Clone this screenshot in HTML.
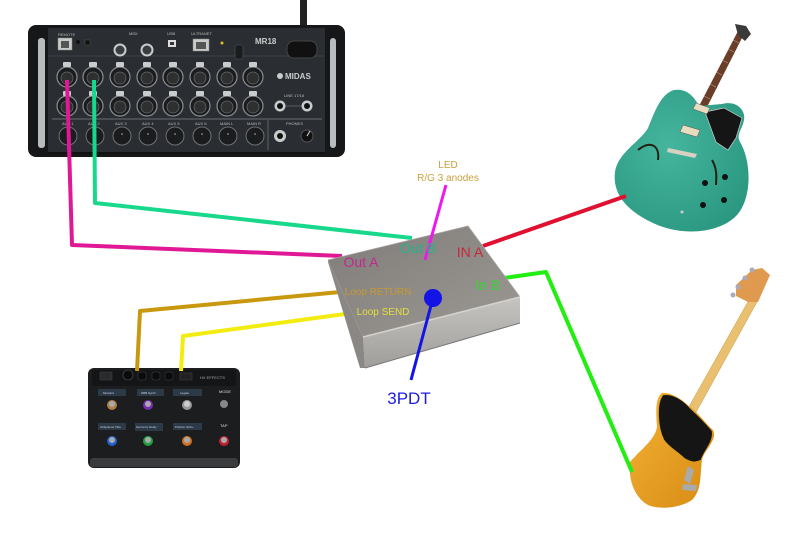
<!DOCTYPE html>
<html><head><meta charset="utf-8"><style>
html,body{margin:0;padding:0;background:#fff;}
svg{display:block;}
text{font-family:"Liberation Sans","DejaVu Sans",sans-serif;}
</style></head><body>
<svg width="800" height="559" viewBox="0 0 800 559" xmlns="http://www.w3.org/2000/svg">
<defs>
<linearGradient id="topf" x1="0" y1="0" x2="1" y2="1">
<stop offset="0" stop-color="#7f7c79"/><stop offset="0.5" stop-color="#8e8b87"/><stop offset="1" stop-color="#9c9995"/>
</linearGradient>
<linearGradient id="frontf" x1="0" y1="0" x2="0" y2="1">
<stop offset="0" stop-color="#c6c4c0"/><stop offset="1" stop-color="#a09e9a"/>
</linearGradient>
<radialGradient id="gbody" cx="0.4" cy="0.4" r="0.7">
<stop offset="0" stop-color="#46b59e"/><stop offset="1" stop-color="#2a9880"/>
</radialGradient>
<linearGradient id="bbody" x1="0" y1="0" x2="1" y2="1">
<stop offset="0" stop-color="#f2b235"/><stop offset="1" stop-color="#d88a12"/>
</linearGradient>
</defs>

<!-- ============ MIXER ============ -->
<g>
<rect x="300" y="0" width="7" height="50" fill="#222"/>
<rect x="28" y="25" width="317" height="132" rx="8" fill="#161719"/>
<rect x="48" y="28" width="277" height="126" fill="#2a2e32"/>
<rect x="38" y="38" width="7" height="110" rx="3" fill="#b8bcbf"/>
<rect x="330" y="38" width="6" height="110" rx="3" fill="#b8bcbf"/>
<line x1="48" y1="56" x2="325" y2="56" stroke="#3c4146" stroke-width="1"/>
<line x1="52" y1="119" x2="322" y2="119" stroke="#6a6f74" stroke-width="1"/>
<line x1="48" y1="153" x2="325" y2="153" stroke="#111" stroke-width="2"/>
<text x="58" y="36" font-size="4" fill="#bbb">REMOTE</text>
<rect x="58" y="38" width="14" height="12" fill="#c8ccc8" stroke="#888" stroke-width="0.5"/>
<rect x="61" y="41" width="8" height="7" fill="#555"/>
<circle cx="78" cy="42" r="2" fill="#111"/>
<rect x="85" y="40" width="5" height="5" fill="#111" stroke="#555" stroke-width="0.5"/>
<text x="129" y="35" font-size="4" fill="#bbb">MIDI</text>
<circle cx="120" cy="50" r="6.5" fill="#c9cccc"/><circle cx="120" cy="50" r="4.5" fill="#3a3d40"/>
<circle cx="147" cy="50" r="6.5" fill="#c9cccc"/><circle cx="147" cy="50" r="4.5" fill="#3a3d40"/>
<text x="167" y="35" font-size="4" fill="#bbb">USB</text>
<rect x="168" y="40" width="8" height="7" fill="#ddd"/><rect x="170" y="42" width="4" height="3" fill="#333"/>
<text x="191" y="35" font-size="4" fill="#bbb">ULTRANET</text>
<rect x="193" y="39" width="16" height="12" fill="#c8ccc8" stroke="#888" stroke-width="0.5"/>
<rect x="196" y="42" width="10" height="7" fill="#555"/>
<circle cx="222" cy="43" r="1.5" fill="#e0c020"/>
<rect x="235" y="45" width="8" height="14" rx="2" fill="#1a1c1e" stroke="#555" stroke-width="0.6"/>
<text x="255" y="44" font-size="8" fill="#c8cccc" font-weight="bold">MR18</text>
<rect x="287" y="41" width="30" height="17" rx="7" fill="#111" stroke="#444" stroke-width="1"/>
<g fill="#1b1c1e" stroke="#8a8e92" stroke-width="1.2">
<circle cx="67" cy="77" r="10"/><circle cx="93" cy="77" r="10"/><circle cx="120" cy="77" r="10"/><circle cx="147" cy="77" r="10"/>
<circle cx="173" cy="77" r="10"/><circle cx="200" cy="77" r="10"/><circle cx="227" cy="77" r="10"/><circle cx="253" cy="77" r="10"/>
<circle cx="67" cy="106" r="10"/><circle cx="93" cy="106" r="10"/><circle cx="120" cy="106" r="10"/><circle cx="147" cy="106" r="10"/>
<circle cx="173" cy="106" r="10"/><circle cx="200" cy="106" r="10"/><circle cx="227" cy="106" r="10"/><circle cx="253" cy="106" r="10"/>
</g>
<g fill="#2e2f31" stroke="#666" stroke-width="0.8">
<circle cx="67" cy="78" r="6"/><circle cx="93" cy="78" r="6"/><circle cx="120" cy="78" r="6"/><circle cx="147" cy="78" r="6"/>
<circle cx="173" cy="78" r="6"/><circle cx="200" cy="78" r="6"/><circle cx="227" cy="78" r="6"/><circle cx="253" cy="78" r="6"/>
<circle cx="67" cy="107" r="6"/><circle cx="93" cy="107" r="6"/><circle cx="120" cy="107" r="6"/><circle cx="147" cy="107" r="6"/>
<circle cx="173" cy="107" r="6"/><circle cx="200" cy="107" r="6"/><circle cx="227" cy="107" r="6"/><circle cx="253" cy="107" r="6"/>
</g>
<g fill="#c9cbcc">
<rect x="63" y="62" width="8" height="5" rx="1"/><rect x="89" y="62" width="8" height="5" rx="1"/><rect x="116" y="62" width="8" height="5" rx="1"/><rect x="143" y="62" width="8" height="5" rx="1"/>
<rect x="169" y="62" width="8" height="5" rx="1"/><rect x="196" y="62" width="8" height="5" rx="1"/><rect x="223" y="62" width="8" height="5" rx="1"/><rect x="249" y="62" width="8" height="5" rx="1"/>
<rect x="63" y="91" width="8" height="5" rx="1"/><rect x="89" y="91" width="8" height="5" rx="1"/><rect x="116" y="91" width="8" height="5" rx="1"/><rect x="143" y="91" width="8" height="5" rx="1"/>
<rect x="169" y="91" width="8" height="5" rx="1"/><rect x="196" y="91" width="8" height="5" rx="1"/><rect x="223" y="91" width="8" height="5" rx="1"/><rect x="249" y="91" width="8" height="5" rx="1"/>
</g>
<circle cx="280" cy="76" r="3" fill="#c9cccc"/>
<text x="285" y="79" font-size="8" fill="#c9cccc" font-weight="bold">MIDAS</text>
<text x="284" y="97" font-size="4" fill="#bbb">LINE 17/18</text>
<circle cx="280" cy="106" r="5.5" fill="#c9cccc"/><circle cx="280" cy="106" r="3" fill="#111"/>
<circle cx="307" cy="106" r="5.5" fill="#c9cccc"/><circle cx="307" cy="106" r="3" fill="#111"/>
<line x1="285" y1="106" x2="302" y2="106" stroke="#888" stroke-width="0.6"/>
<g font-size="4" fill="#bbb">
<text x="62" y="125">AUX 1</text><text x="88" y="125">AUX 2</text><text x="115" y="125">AUX 3</text><text x="142" y="125">AUX 4</text>
<text x="168" y="125">AUX 5</text><text x="195" y="125">AUX 6</text><text x="220" y="125">MAIN L</text><text x="247" y="125">MAIN R</text><text x="286" y="125">PHONES</text>
</g>
<g fill="#1b1c1e" stroke="#6e7276" stroke-width="1">
<circle cx="68" cy="136" r="9"/><circle cx="95" cy="136" r="9"/><circle cx="122" cy="136" r="9"/><circle cx="148" cy="136" r="9"/>
<circle cx="175" cy="136" r="9"/><circle cx="202" cy="136" r="9"/><circle cx="228" cy="136" r="9"/><circle cx="255" cy="136" r="9"/>
</g>
<g fill="#777">
<circle cx="122" cy="134" r="1"/><circle cx="148" cy="134" r="1"/><circle cx="175" cy="134" r="1"/><circle cx="202" cy="134" r="1"/><circle cx="228" cy="134" r="1"/><circle cx="255" cy="134" r="1"/>
</g>
<line x1="268" y1="120" x2="268" y2="150" stroke="#6a6f74" stroke-width="0.8"/>
<circle cx="280" cy="136" r="6" fill="#c9cccc"/><circle cx="280" cy="136" r="3" fill="#111"/>
<circle cx="307" cy="136" r="6" fill="#111" stroke="#555" stroke-width="1"/>
<line x1="307" y1="136" x2="310" y2="131" stroke="#ddd" stroke-width="1"/>
</g>

<!-- ============ PEDAL ============ -->
<g>
<rect x="88" y="368" width="152" height="100" rx="6" fill="#1c1d1f"/>
<rect x="90" y="458" width="148" height="9" rx="3" fill="#3a3b3d"/>
<rect x="92" y="370" width="144" height="16" fill="#141516"/>
<rect x="100" y="372" width="12" height="8" fill="#2a2b2d" stroke="#444" stroke-width="0.5"/>
<circle cx="128" cy="375" r="5" fill="#0b0b0c" stroke="#444" stroke-width="0.8"/>
<rect x="138" y="372" width="8" height="8" rx="2" fill="#0b0b0c" stroke="#444" stroke-width="0.5"/>
<rect x="152" y="372" width="8" height="8" rx="2" fill="#0b0b0c" stroke="#444" stroke-width="0.5"/>
<rect x="165" y="372" width="8" height="8" rx="2" fill="#0b0b0c" stroke="#444" stroke-width="0.5"/>
<rect x="180" y="373" width="12" height="7" fill="#222" stroke="#444" stroke-width="0.5"/>
<text x="200" y="379" font-size="4" fill="#aaa">HX EFFECTS</text>
<g fill="#2c3a48">
<rect x="98" y="389" width="28" height="7"/><rect x="137" y="389" width="27" height="7"/><rect x="173" y="389" width="29" height="7"/>
<rect x="98" y="423" width="28" height="7"/><rect x="135" y="423" width="28" height="8"/><rect x="173" y="423" width="29" height="7"/>
</g>
<g font-size="3" fill="#ccd">
<text x="103" y="394">Mustard</text><text x="141" y="394">DBB Synth</text><text x="180" y="394">Legato</text>
<text x="100" y="428">Ubiquitous Vibe</text><text x="136" y="428">Harmony Delay</text><text x="175" y="428">Particle Verb+</text>
</g>
<g font-size="4" fill="#ddd"><text x="219" y="393">MODE</text><text x="220" y="427">TAP</text></g>
<g>
<circle cx="112" cy="405" r="5" fill="#b08040"/><circle cx="112" cy="404" r="3" fill="#aaa"/>
<circle cx="148" cy="405" r="5" fill="#7a2ab0"/><circle cx="148" cy="404" r="3" fill="#aaa"/>
<circle cx="187" cy="405" r="5" fill="#999"/><circle cx="187" cy="404" r="3" fill="#ccc"/>
<circle cx="224" cy="404" r="4" fill="#888"/>
<circle cx="112" cy="441" r="5" fill="#2060d0"/><circle cx="112" cy="440" r="3" fill="#aaa"/>
<circle cx="148" cy="441" r="5" fill="#20a040"/><circle cx="148" cy="440" r="3" fill="#aaa"/>
<circle cx="187" cy="441" r="5" fill="#d07020"/><circle cx="187" cy="440" r="3" fill="#aaa"/>
<circle cx="224" cy="441" r="5" fill="#c02030"/><circle cx="224" cy="440" r="3" fill="#aaa"/>
</g>
</g>

<!-- ============ GUITAR ============ -->
<g>
<polygon points="698,108 705,111 744,34 738,31" fill="#6a3e28"/>
<g stroke="#c8b8a0" stroke-width="0.5">
<line x1="704" y1="96" x2="710" y2="99"/><line x1="710" y1="84" x2="716" y2="87"/><line x1="716" y1="72" x2="722" y2="75"/>
<line x1="722" y1="60" x2="728" y2="63"/><line x1="728" y1="49" x2="734" y2="52"/><line x1="733" y1="40" x2="739" y2="43"/>
</g>
<polygon points="735,24 746,26 751,34 745,41 738,35" fill="#3a3a3a"/>
<path d="M674,90 C686,88 694,96 699,106 L722,104 C736,100 746,110 744,120 C742,130 736,134 740,142 C752,162 752,200 736,216 C720,232 688,236 660,226 C630,214 612,196 615,172 C618,152 640,142 648,128 C654,114 660,94 674,90 Z" fill="url(#gbody)"/>
<polygon points="705,112 724,108 742,118 736,138 728,150 716,142" fill="#151515" stroke="#ccc" stroke-width="0.7"/>
<polygon points="696,103 710,108 707,114 693,109" fill="#e8dcc0" stroke="#555" stroke-width="0.5"/>
<polygon points="683,125 700,130 697,137 680,132" fill="#e8dcc0" stroke="#555" stroke-width="0.5"/>
<polygon points="668,148 697,154 695,158 667,152" fill="#d8d0c0"/>
<path d="M638,150 C650,140 660,145 658,160" stroke="#221" stroke-width="2" fill="none"/>
<path d="M712,160 C718,170 716,180 716,185" stroke="#221" stroke-width="2" fill="none"/>
<g fill="#111"><circle cx="705" cy="183" r="3"/><circle cx="725" cy="177" r="3"/><circle cx="703" cy="205" r="3"/><circle cx="724" cy="200" r="3"/></g>
<circle cx="682" cy="212" r="1.5" fill="#ccc"/>
</g>

<!-- ============ BASS ============ -->
<g>
<polygon points="686,412 694,416 757,302 750,298" fill="#e8c070" stroke="#c89a40" stroke-width="0.5"/>
<path d="M748,302 L736,296 L736,285 L752,270 L762,268 L770,275 L758,302 Z" fill="#e09a50"/>
<g fill="#aab">
<circle cx="752" cy="270" r="2.5"/><circle cx="745" cy="278" r="2.5"/><circle cx="738" cy="287" r="2.5"/><circle cx="733" cy="295" r="2.5"/>
</g>
<path d="M662,393 C670,392 680,398 690,407 C698,412 704,422 713,430 C718,440 704,450 702,460 C700,475 702,490 692,500 C680,508 660,510 648,505 C635,498 628,480 630,462 C640,450 655,440 657,427 C656,412 655,398 662,393 Z" fill="url(#bbody)"/>
<path d="M663,395 C672,393 683,400 690,408 C697,415 705,422 712,431 C714,442 704,450 701,460 C695,463 690,462 684,458 C678,452 670,448 664,440 C658,428 656,404 663,395 Z" fill="#151515" stroke="#d89a20" stroke-width="0.6"/>
<polygon points="683,484 697,485 696,491 682,490" fill="#aaa"/>
<polygon points="688,466 694,470 690,484 684,480" fill="#aaa"/>
</g>

<!-- ============ CABLES ============ -->
<g fill="none" stroke-linejoin="round" stroke-linecap="butt">
<polyline points="67,80 72,245 342,256" stroke="#e01896" stroke-width="4"/>
<polyline points="94,80 95,203 412,238" stroke="#18d88c" stroke-width="4"/>
<polyline points="483,246 626,196" stroke="#e01030" stroke-width="4"/>
<polyline points="504,278 546,272 632,472" stroke="#22ee11" stroke-width="4"/>
<polyline points="340,292 140,311 137,371" stroke="#c8980e" stroke-width="4"/>
<polyline points="345,314 183,336 181,371" stroke="#f2ec10" stroke-width="4"/>
</g>

<!-- ============ BOX ============ -->
<g>
<polygon points="363,337 520,297 520,323 365,368" fill="url(#frontf)"/>
<polygon points="328,260 363,337 365,368 360,368 328,262" fill="#8a8784"/>
<polygon points="328,260 468,226 520,297 363,337" fill="url(#topf)"/>
<polyline points="328,260 468,226 520,297" stroke="#a8a5a1" stroke-width="0.8" fill="none"/>
<polyline points="363,337 520,297" stroke="#d4d2ce" stroke-width="1.5" fill="none"/>
<polyline points="365,368 520,323" stroke="#777" stroke-width="1" fill="none"/>
</g>

<line x1="446" y1="185" x2="425" y2="260" stroke="#ee18ee" stroke-width="3"/>
<line x1="433" y1="298" x2="411" y2="380" stroke="#1414e6" stroke-width="3"/>
<circle cx="433" cy="298" r="9" fill="#1414e6"/>

<!-- ============ LABELS ============ -->
<g text-anchor="middle">
<text x="448" y="168" font-size="10" fill="#c8a040">LED</text>
<text x="448" y="181" font-size="10" fill="#c8a040">R/G 3 anodes</text>
<text x="361" y="267" font-size="14" fill="#c02890">Out A</text>
<text x="418" y="253" font-size="14" fill="#22b488">Out B</text>
<text x="470" y="257" font-size="14" fill="#c8283a">IN A</text>
<text x="488" y="290" font-size="14" fill="#30d830">In B</text>
<text x="378" y="295" font-size="10" fill="#c89a30">Loop RETURN</text>
<text x="383" y="315" font-size="10" fill="#e6de40">Loop SEND</text>
<text x="409" y="404" font-size="17" fill="#1c1ce0">3PDT</text>
</g>
</svg>
</body></html>
